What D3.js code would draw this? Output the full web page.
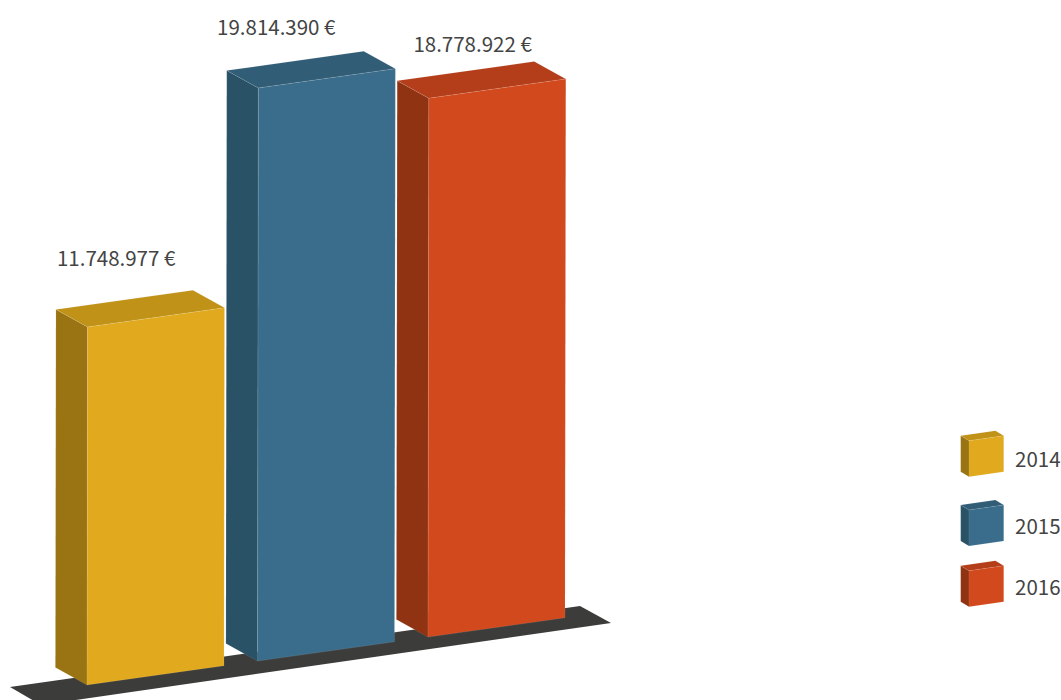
<!DOCTYPE html>
<html><head><meta charset="utf-8">
<script src="https://cdn.jsdelivr.net/npm/d3@7/dist/d3.min.js"></script>
<style>html,body{margin:0;padding:0;background:#fff;overflow:hidden}
text{font-family:"Noto Sans CJK SC","Noto Sans",sans-serif;fill:#444444;font-size:20.5px}</style>
</head><body><svg id="c" width="1061" height="700"></svg>
<script>
const categories = ["2014","2015","2016"];
const values = [11748977,19814390,18778922];
const valueLabels = ["11.748.977 €","19.814.390 €","18.778.922 €"];
const frontColors = ["#e1aa1e","#3a6d8b","#d2491d"];
const topColors = ["#c09218","#315d76","#b33e19"];
const sideColors = ["#9a7413","#295266","#8f3312"];

const svg = d3.select("#c");
const slope = 0.1405, depthX = -31.6, depthY = -17.5, lean = 0.0015, recede = 0.011;
const x = d3.scaleBand().domain(categories).range([87,565]).paddingInner(0.1965).paddingOuter(0);
const h = d3.scaleLinear().domain([0,20000000]).range([35.5,584.5]);
const groundY = px => 685 - slope*(px-87);
const poly = pts => pts.map(p=>p.join(",")).join(" ");

function cube(g, x0, y0, w, hgt, dx, dy, sl, ln, i, sw){
  const y1 = y0 - sl*w;
  const fBL=[x0,y0], fBR=[x0+w,y1], fTL=[x0+ln,y0-hgt], fTR=[x0+w+ln,y1-hgt];
  const bTL=[fTL[0]+dx,fTL[1]+dy], bTR=[fTR[0]+dx,fTR[1]+dy], bBL=[fBL[0]+dx,fBL[1]+dy];
  const face=(pts,fill)=>g.append("polygon").attr("points",poly(pts)).attr("fill",fill)
    .attr("stroke","#fff").attr("stroke-opacity",0.13).attr("stroke-width",sw).attr("stroke-linejoin","round");
  face([bTL,fTL,fBL,bBL],sideColors[i]);
  face([bTL,bTR,fTR,fTL],topColors[i]);
  face([fTL,fTR,fBR,fBL],frontColors[i]);
  return {bTL};
}

// floor
const fl=10, fr=580;
svg.append("polygon").attr("fill","#3c3c3b").attr("points",poly([
  [fl,687],[fr,606],[fr+31,623],[fl+31,705]
]));

// bars
const labelDx=[1,-9.7,16.2], labelDy=[-43,-36,-29];
categories.forEach((c,i)=>{
  const g=svg.append("g");
  const x0=x(c), hgt=h(values[i])*(1-recede*i);
  const r=cube(g,x0,groundY(x0),x.bandwidth(),hgt,depthX,depthY,slope,lean*hgt,i,0.7);
  svg.append("text").attr("x",r.bTL[0]+labelDx[i]).attr("y",r.bTL[1]+labelDy[i]).text(valueLabels[i]);
});

// legend
const legendBottom=[476.7,546,606.7], legendText=[467,534,595];
categories.forEach((c,i)=>{
  const g=svg.append("g");
  cube(g,969,legendBottom[i],34.7,36,-8.3,-5,0.144,0,i,0.5);
  svg.append("text").attr("x",1015).attr("y",legendText[i]).text(c);
});
</script></body></html>
